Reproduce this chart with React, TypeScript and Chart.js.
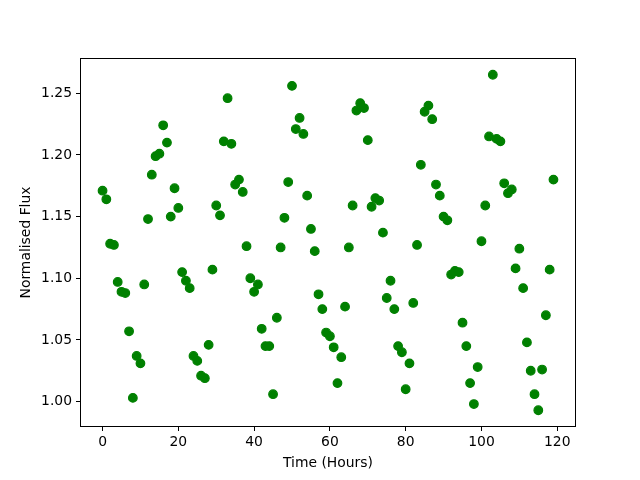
import React, { useEffect, useRef } from "react";
import { Chart, registerables } from "chart.js";

Chart.register(...registerables);

const hours = [
  0, 1, 2, 3, 4, 5, 6, 7, 8, 9, 10, 11, 12, 13, 14, 15, 16, 17, 18, 19,
  20, 21, 22, 23, 24, 25, 26, 27, 28, 29, 30, 31, 32, 33, 34, 35, 36, 37, 38, 39,
  40, 41, 42, 43, 44, 45, 46, 47, 48, 49, 50, 51, 52, 53, 54, 55, 56, 57, 58, 59,
  60, 61, 62, 63, 64, 65, 66, 67, 68, 69, 70, 71, 72, 73, 74, 75, 76, 77, 78, 79,
  80, 81, 82, 83, 84, 85, 86, 87, 88, 89, 90, 91, 92, 93, 94, 95, 96, 97, 98, 99,
  100, 101, 102, 103, 104, 105, 106, 107, 108, 109, 110, 111, 112, 113, 114, 115, 116, 117, 118, 119,
];

const flux = [
  1.171, 1.164, 1.128, 1.127, 1.097, 1.089, 1.088, 1.057, 1.003, 1.037,
  1.031, 1.095, 1.148, 1.184, 1.199, 1.201, 1.224, 1.21, 1.15, 1.173,
  1.157, 1.105, 1.098, 1.092, 1.037, 1.033, 1.021, 1.019, 1.046, 1.107,
  1.159, 1.151, 1.211, 1.246, 1.209, 1.176, 1.18, 1.17, 1.126, 1.1,
  1.089, 1.095, 1.059, 1.045, 1.045, 1.006, 1.068, 1.125, 1.149, 1.178,
  1.256, 1.221, 1.23, 1.217, 1.167, 1.14, 1.122, 1.087, 1.075, 1.056,
  1.053, 1.044, 1.015, 1.036, 1.077, 1.125, 1.159, 1.236, 1.242, 1.238,
  1.212, 1.158, 1.165, 1.163, 1.137, 1.084, 1.098, 1.075, 1.045, 1.04,
  1.01, 1.031, 1.08, 1.127, 1.192, 1.235, 1.24, 1.229, 1.176, 1.167,
  1.15, 1.147, 1.103, 1.106, 1.105, 1.064, 1.045, 1.015, 0.998, 1.028,
  1.13, 1.159, 1.215, 1.265, 1.213, 1.211, 1.177, 1.169, 1.172, 1.108,
  1.124, 1.092, 1.048, 1.025, 1.006, 0.993, 1.026, 1.07, 1.107, 1.18,
];

const xTickValues = [0, 20, 40, 60, 80, 100, 120];
const yTickValues = [1.0, 1.05, 1.1, 1.15, 1.2, 1.25];

const xLabel = "Time (Hours)";
const yLabel = "Normalised Flux";

const FONT = "'DejaVu Sans', sans-serif";
const FS = 13.9;

export default function App() {
  const ref = useRef<HTMLCanvasElement | null>(null);

  useEffect(() => {
    document.body.style.margin = "0";
    const canvas = ref.current;
    if (!canvas) return;

    const xMinD = Math.min(...hours);
    const xMaxD = Math.max(...hours);
    const yMinD = Math.min(...flux);
    const yMaxD = Math.max(...flux);
    const xm = (xMaxD - xMinD) * 0.05;
    const ym = (yMaxD - yMinD) * 0.05;

    const framePlugin = {
      id: "frame",
      afterDatasetsDraw(chart: any) {
        const { ctx, chartArea } = chart;
        ctx.save();
        ctx.strokeStyle = "#000";
        ctx.lineWidth = 1;
        const l = Math.round(chartArea.left) + 0.5;
        const t = Math.round(chartArea.top) + 0.5;
        const r = Math.round(chartArea.right) - 0.5;
        const b = Math.round(chartArea.bottom) - 0.5;
        ctx.strokeRect(l, t, r - l, b - t);
        ctx.restore();
      },
    };

    const chart = new Chart(canvas, {
      type: "scatter",
      data: {
        datasets: [
          {
            data: hours.map((h, i) => ({ x: h, y: flux[i] })),
            backgroundColor: "#008000",
            borderColor: "#008000",
            pointRadius: 4.3,
            pointBorderWidth: 1.2,
            pointHoverRadius: 4.3,
          },
        ],
      },
      options: {
        responsive: false,
        animation: false,
        events: [],
        layout: { padding: { top: 58, right: 64, left: 0, bottom: 0 } },
        plugins: {
          legend: { display: false },
          tooltip: { enabled: false },
        },
        scales: {
          x: {
            type: "linear",
            min: xMinD - xm,
            max: xMaxD + xm,
            afterFit: (s: any) => {
              s.height = 53;
            },
            afterBuildTicks: (s: any) => {
              s.ticks = xTickValues.map((v) => ({ value: v }));
            },
            grid: {
              display: true,
              drawOnChartArea: false,
              drawTicks: true,
              tickLength: 4,
              color: "#000",
              lineWidth: 1,
            },
            border: { display: false },
            ticks: {
              color: "#000",
              font: { family: FONT, size: FS },
              padding: 3,
              maxRotation: 0,
              autoSkip: false,
              callback: (v: any) => String(v),
            },
            title: {
              display: true,
              text: xLabel,
              color: "#000",
              font: { family: FONT, size: FS },
              padding: { top: 0, bottom: 8 },
            },
          },
          y: {
            type: "linear",
            min: yMinD - ym,
            max: yMaxD + ym,
            afterFit: (s: any) => {
              s.width = 80;
            },
            afterBuildTicks: (s: any) => {
              s.ticks = yTickValues.map((v) => ({ value: v }));
            },
            grid: {
              display: true,
              drawOnChartArea: false,
              drawTicks: true,
              tickLength: 4,
              color: "#000",
              lineWidth: 1,
            },
            border: { display: false },
            ticks: {
              color: "#000",
              font: { family: FONT, size: FS },
              padding: 4,
              autoSkip: false,
              callback: (v: any) => Number(v).toFixed(2),
            },
            title: {
              display: true,
              text: yLabel,
              color: "#000",
              font: { family: FONT, size: FS },
              padding: { top: 18, bottom: 0 },
            },
          },
        },
      },
      plugins: [framePlugin],
    });

    return () => chart.destroy();
  }, []);

  return <canvas ref={ref} width={640} height={480} style={{ display: "block" }} />;
}
